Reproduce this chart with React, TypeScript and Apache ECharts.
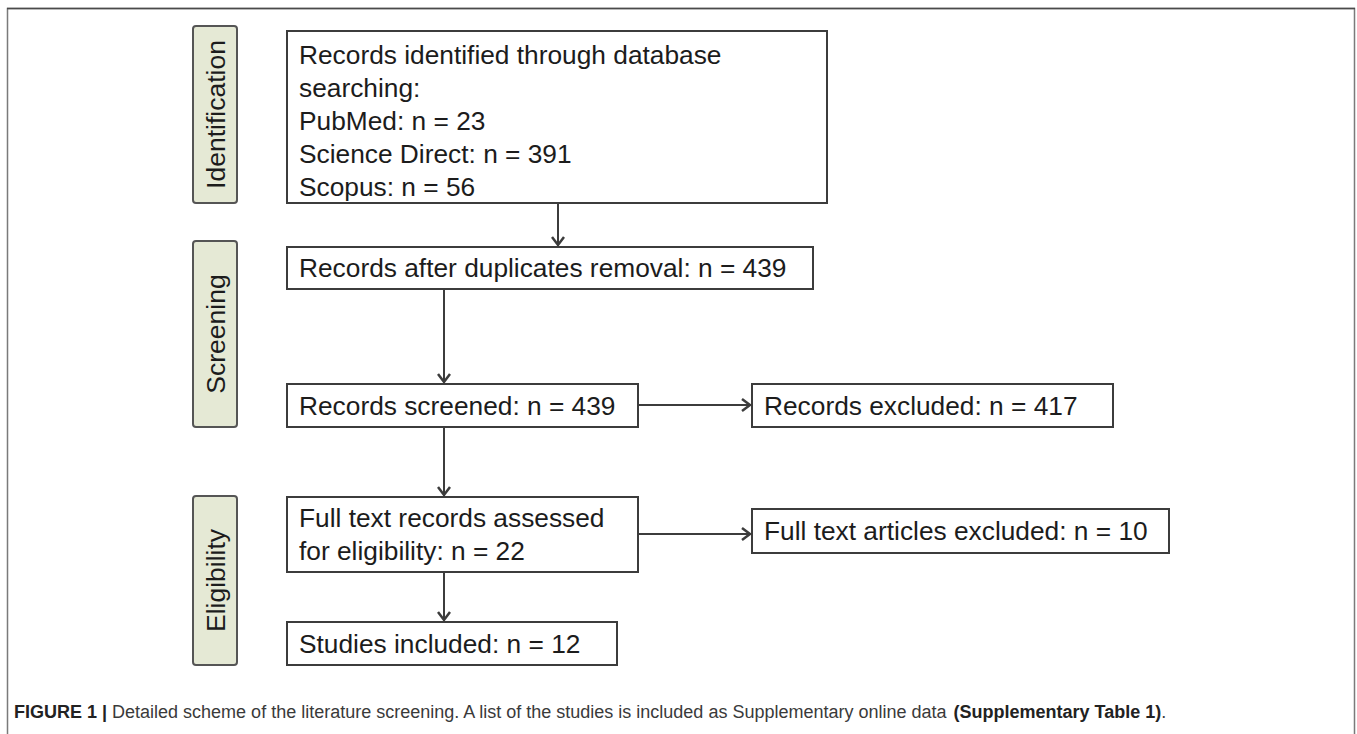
import React, { useEffect, useRef } from "react";
import * as echarts from "echarts";

// ---- data ----
const stageLabels = ["Identification", "Screening", "Eligibility"];
const sourceNames = ["PubMed", "Science Direct", "Scopus"];
const sourceCounts = [23, 391, 56];
const flowTitles = [
  "Records identified through database\nsearching:",
  "Records after duplicates removal",
  "Records screened",
  "Records excluded",
  "Full text records assessed\nfor eligibility",
  "Full text articles excluded",
  "Studies included",
];
const flowCounts = [null, 439, 439, 417, 22, 10, 12];
const captionBold = "FIGURE 1 |";
const captionText =
  " Detailed scheme of the literature screening. A list of the studies is included as Supplementary online data ";
const captionRef = "(Supplementary Table 1)";

// ---- layout ----
const FONT = "'Liberation Sans', Arial, Helvetica, sans-serif";
const stageRects = [
  { x: 193, y: 26, w: 44, h: 177 },
  { x: 193, y: 241, w: 44, h: 186 },
  { x: 193, y: 496, w: 44, h: 169 },
];
const boxRects = [
  { x: 287, y: 31, w: 540, h: 172 },
  { x: 287, y: 247, w: 526, h: 42 },
  { x: 287, y: 384, w: 351, h: 43 },
  { x: 752, y: 384, w: 361, h: 43 },
  { x: 287, y: 497, w: 351, h: 75 },
  { x: 752, y: 509, w: 417, h: 44 },
  { x: 287, y: 622, w: 330, h: 43 },
];
const arrows = [
  { x1: 558, y1: 203, x2: 558, y2: 247 },
  { x1: 444, y1: 289, x2: 444, y2: 384 },
  { x1: 638, y1: 405, x2: 752, y2: 405 },
  { x1: 444, y1: 427, x2: 444, y2: 497 },
  { x1: 638, y1: 534, x2: 752, y2: 534 },
  { x1: 444, y1: 572, x2: 444, y2: 622 },
];

function boxLabel(i: number): string {
  if (i === 0) {
    const lines = sourceNames.map((s, k) => `${s}: n = ${sourceCounts[k]}`);
    return flowTitles[0] + "\n" + lines.join("\n");
  }
  return `${flowTitles[i]}: n = ${flowCounts[i]}`;
}

export default function App() {
  const ref = useRef<HTMLDivElement>(null);
  useEffect(() => {
    if (!ref.current) return;
    const chart = echarts.init(ref.current, null, { renderer: "svg" });
    const els: any[] = [];
    const LINE = "#3c3c3c";
    const TXT = "#1c1c1c";

    // outer frame
    els.push({
      type: "rect",
      shape: { x: 7.5, y: 8.5, width: 1347, height: 820 },
      style: { fill: "#fff", stroke: "#7a7a7a", lineWidth: 1.5 },
      z: 0,
    });
    els.push({
      type: "line",
      shape: { x1: 7, y1: 8.5, x2: 1355, y2: 8.5 },
      style: { stroke: "#4a4a4a", lineWidth: 1.5 },
      z: 1,
    });

    stageLabels.forEach((lab, i) => {
      const r = stageRects[i];
      els.push({
        type: "rect",
        shape: { x: r.x, y: r.y, width: r.w, height: r.h, r: 3 },
        style: { fill: "#e5e9d5", stroke: "#555", lineWidth: 2 },
        z: 2,
      });
      els.push({
        type: "text",
        x: r.x + r.w / 2 + 1,
        y: r.y + r.h / 2,
        rotation: Math.PI / 2,
        style: {
          text: lab,
          fontSize: 26.5,
          fontFamily: FONT,
          fill: TXT,
          align: "center",
          verticalAlign: "middle",
        },
        z: 3,
      });
    });

    boxRects.forEach((r, i) => {
      els.push({
        type: "rect",
        shape: { x: r.x, y: r.y, width: r.w, height: r.h },
        style: { fill: "#fff", stroke: LINE, lineWidth: 2 },
        z: 2,
      });
      const text = boxLabel(i);
      const nLines = text.split("\n").length;
      els.push({
        type: "text",
        x: r.x + 12,
        y: i === 0 ? r.y + 7 : r.y + r.h / 2 - (nLines * 33) / 2,
        style: {
          text,
          fontSize: 26.3,
          lineHeight: 33,
          fontFamily: FONT,
          fill: TXT,
          align: "left",
          verticalAlign: "top",
        },
        z: 3,
      });
    });

    arrows.forEach((a) => {
      els.push({
        type: "line",
        shape: { x1: a.x1, y1: a.y1, x2: a.x2, y2: a.y2 - (a.x1 === a.x2 ? 1 : 0) },
        style: { stroke: LINE, lineWidth: 2 },
        z: 1,
      });
      let pts: number[][];
      if (a.x1 === a.x2) {
        pts = [
          [a.x2 - 6, a.y2 - 10],
          [a.x2, a.y2 - 2],
          [a.x2 + 6, a.y2 - 10],
        ];
      } else {
        pts = [
          [a.x2 - 10, a.y2 - 6],
          [a.x2 - 2, a.y2],
          [a.x2 - 10, a.y2 + 6],
        ];
      }
      els.push({
        type: "polyline",
        shape: { points: pts },
        style: { stroke: LINE, lineWidth: 2.5, fill: "none" },
        z: 4,
      });
    });

    els.push({
      type: "text",
      x: 14,
      y: 712,
      style: {
        text: `{b|${captionBold}}${captionText}{b|${captionRef}}.`,
        fontSize: 18,
        fontFamily: FONT,
        fill: "#3a3a3a",
        verticalAlign: "middle",
        rich: {
          b: { fontSize: 18, fontWeight: "bold", fontFamily: FONT, fill: "#222" },
        },
      },
      z: 3,
    });

    chart.setOption({
      animation: false,
      backgroundColor: "#fff",
      graphic: { elements: els },
    });
    return () => chart.dispose();
  }, []);
  return (
    <div
      ref={ref}
      style={{ position: "fixed", left: 0, top: 0, width: 1357, height: 734 }}
    />
  );
}
